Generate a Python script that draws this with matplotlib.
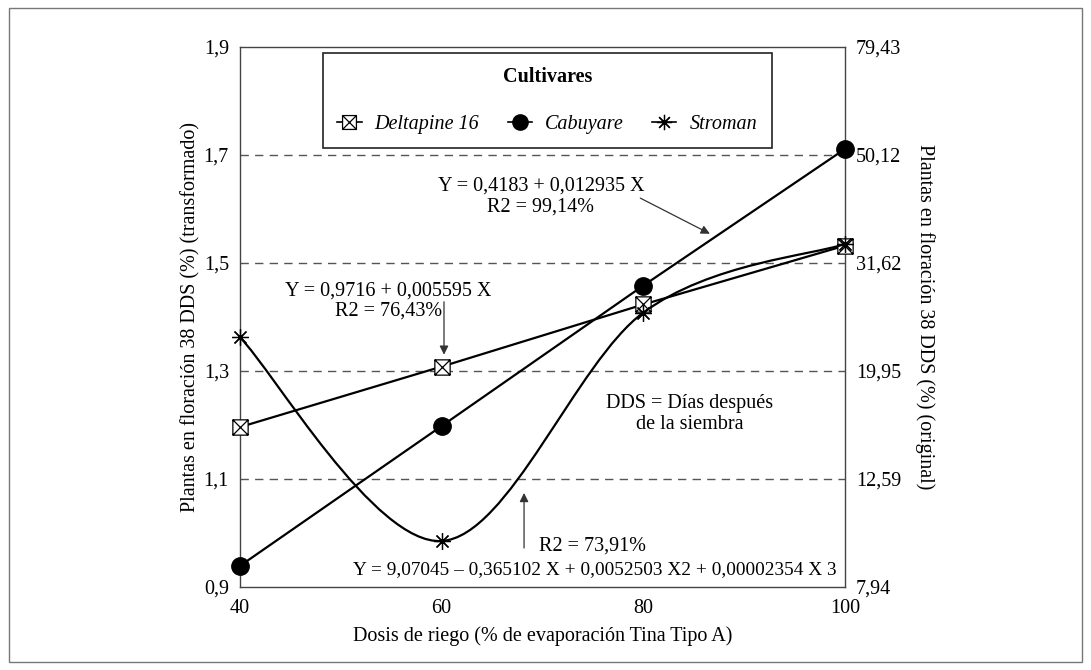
import matplotlib
matplotlib.use("Agg")
import matplotlib.pyplot as plt
import numpy as np
from matplotlib.lines import Line2D
from matplotlib.patches import PathPatch, Rectangle
from matplotlib.path import Path

plt.rcParams["font.family"] = ["Liberation Serif", "DejaVu Serif"]

# data
dosis = [40, 60, 80, 100]
deltapine = [1.196, 1.308, 1.423, 1.532]
cabuyare = [0.939, 1.198, 1.458, 1.711]
stroman = [1.362, 0.985, 1.408, 1.535]

y_ticks = [0.9, 1.1, 1.3, 1.5, 1.7, 1.9]
y_labels = ["0,9", "1,1", "1,3", "1,5", "1,7", "1,9"]
y2_labels = ["7,94", "12,59", "19,95", "31,62", "50,12", "79,43"]
x_labels = ["40", "60", "80", "100"]
grid_levels = [1.1, 1.3, 1.5, 1.7]

FS = 14.5


def box_x_marker() -> Path:
    verts = [(-1, -1), (1, -1), (1, 1), (-1, 1), (-1, -1),
             (-1, -1), (1, 1), (-1, 1), (1, -1)]
    codes = [Path.MOVETO, Path.LINETO, Path.LINETO, Path.LINETO, Path.CLOSEPOLY,
             Path.MOVETO, Path.LINETO, Path.MOVETO, Path.LINETO]
    return Path(verts, codes)


def smooth_path(xs, ys) -> Path:
    # Bezier control points like a spreadsheet "smoothed line"
    pts = np.column_stack([xs, ys]).astype(float)
    ext = np.vstack([pts[0], pts, pts[-1]])
    verts = [tuple(pts[0])]
    codes = [Path.MOVETO]
    for i in range(len(pts) - 1):
        p0, p1, p2, p3 = ext[i], ext[i + 1], ext[i + 2], ext[i + 3]
        c1 = p1 + (p2 - p0) / 6
        c2 = p2 - (p3 - p1) / 6
        verts += [tuple(c1), tuple(c2), tuple(p2)]
        codes += [Path.CURVE4] * 3
    return Path(verts, codes)


fig = plt.figure(figsize=(10.91, 6.70), dpi=100)
fig.patches.append(Rectangle((0.008, 0.012), 0.984, 0.976, transform=fig.transFigure,
                             fill=False, edgecolor="#777777", lw=1.0))
ax = fig.add_axes([0.220, 0.124, 0.5545, 0.806])
ax.set_xlim(40, 100)
ax.set_ylim(0.9, 1.9)

for g in grid_levels:
    ax.axhline(g, color="#555555", lw=1.0, ls=(0, (6, 4.5)), zorder=1)

mk_box = box_x_marker()
ax.plot(dosis, deltapine, color="black", lw=1.6, zorder=3,
        marker=mk_box, ms=11, mfc="white", mec="black", mew=0.9, clip_on=False)
ax.plot(dosis, cabuyare, color="black", lw=1.6, zorder=3,
        marker="o", ms=12.5, mfc="black", mec="black", clip_on=False)
ax.add_patch(PathPatch(smooth_path(dosis, stroman), fill=False, edgecolor="black",
                       lw=1.6, zorder=3))
ax.plot(dosis, stroman, ls="none", marker=(8, 2, 0), ms=12, mec="black",
        mew=0.9, zorder=4, clip_on=False)

ax.set_xticks(dosis)
ax.set_xticklabels(x_labels)
ax.set_yticks(y_ticks)
ax.set_yticklabels(y_labels)
ax.tick_params(length=0, labelsize=FS, pad=8)
ax.tick_params(axis="x", pad=9)
for sp in ax.spines.values():
    sp.set_color("#444444")
    sp.set_linewidth(1.0)
ax.set_xlabel("Dosis de riego (% de evaporación Tina Tipo A)", fontsize=FS, labelpad=6)
ax.set_ylabel("Plantas en floración 38 DDS (%) (transformado)", fontsize=FS, labelpad=2)

ax2 = ax.twinx()
ax2.set_ylim(0.9, 1.9)
ax2.set_yticks(y_ticks)
ax2.set_yticklabels(y2_labels)
ax2.tick_params(length=0, labelsize=FS, pad=8)
for sp in ax2.spines.values():
    sp.set_visible(False)
ax2.set_ylabel("Plantas en floración 38 DDS (%) (original)", fontsize=FS,
               rotation=-90, labelpad=24)

# annotations
arrow = dict(arrowstyle="-|>", color="#333333", lw=0.9, mutation_scale=13,
             shrinkA=0, shrinkB=0)
ax.text(69.85, 1.623, "Y = 0,4183 + 0,012935 X\nR2 = 99,14%", fontsize=FS,
        ha="center", va="center", linespacing=1.1)
ax.annotate("", xy=(86.6, 1.554), xytext=(79.7, 1.620), arrowprops=arrow)

ax.text(54.7, 1.429, "Y = 0,9716 + 0,005595 X\nR2 = 76,43%", fontsize=FS,
        ha="center", va="center", linespacing=1.1)
ax.annotate("", xy=(60.23, 1.330), xytext=(60.23, 1.428), arrowprops=arrow)

ax.text(84.6, 1.220, "DDS = Días después\nde la siembra", fontsize=FS,
        ha="center", va="center", linespacing=1.1)

ax.text(75.0, 0.975, "R2 = 73,91%", fontsize=FS, ha="center", va="center")
ax.text(75.2, 0.932, "Y = 9,07045 – 0,365102 X + 0,0052503 X2 + 0,00002354 X 3",
        fontsize=13.9, ha="center", va="center")
ax.annotate("", xy=(68.17, 1.074), xytext=(68.17, 0.972), arrowprops=arrow)

# legend
h_del = Line2D([], [], color="black", lw=1.2, marker=mk_box, ms=10, mfc="white",
               mec="black", mew=0.9)
h_cab = Line2D([], [], color="black", lw=1.2, marker="o", ms=11, mfc="black")
h_str = Line2D([], [], color="black", lw=1.2, marker=(8, 2, 0), ms=11, mew=0.9)
leg = ax.legend([h_del, h_cab, h_str], ["Deltapine 16", "Cabuyare", "Stroman"],
                ncol=3, loc="upper left", bbox_to_anchor=(0.137, 0.989, 0.742, 0.0),
                mode="expand", fancybox=False, framealpha=1, edgecolor="#222222",
                prop={"style": "italic", "size": FS}, title="Cultivares",
                title_fontproperties={"weight": "bold", "size": FS},
                labelspacing=1.35, borderpad=0.72, handlelength=1.2,
                handletextpad=0.65, columnspacing=1.0, borderaxespad=0)
leg.get_frame().set_linewidth(1.2)
leg.set_zorder(5)

fig.savefig("out.png", dpi=100)
